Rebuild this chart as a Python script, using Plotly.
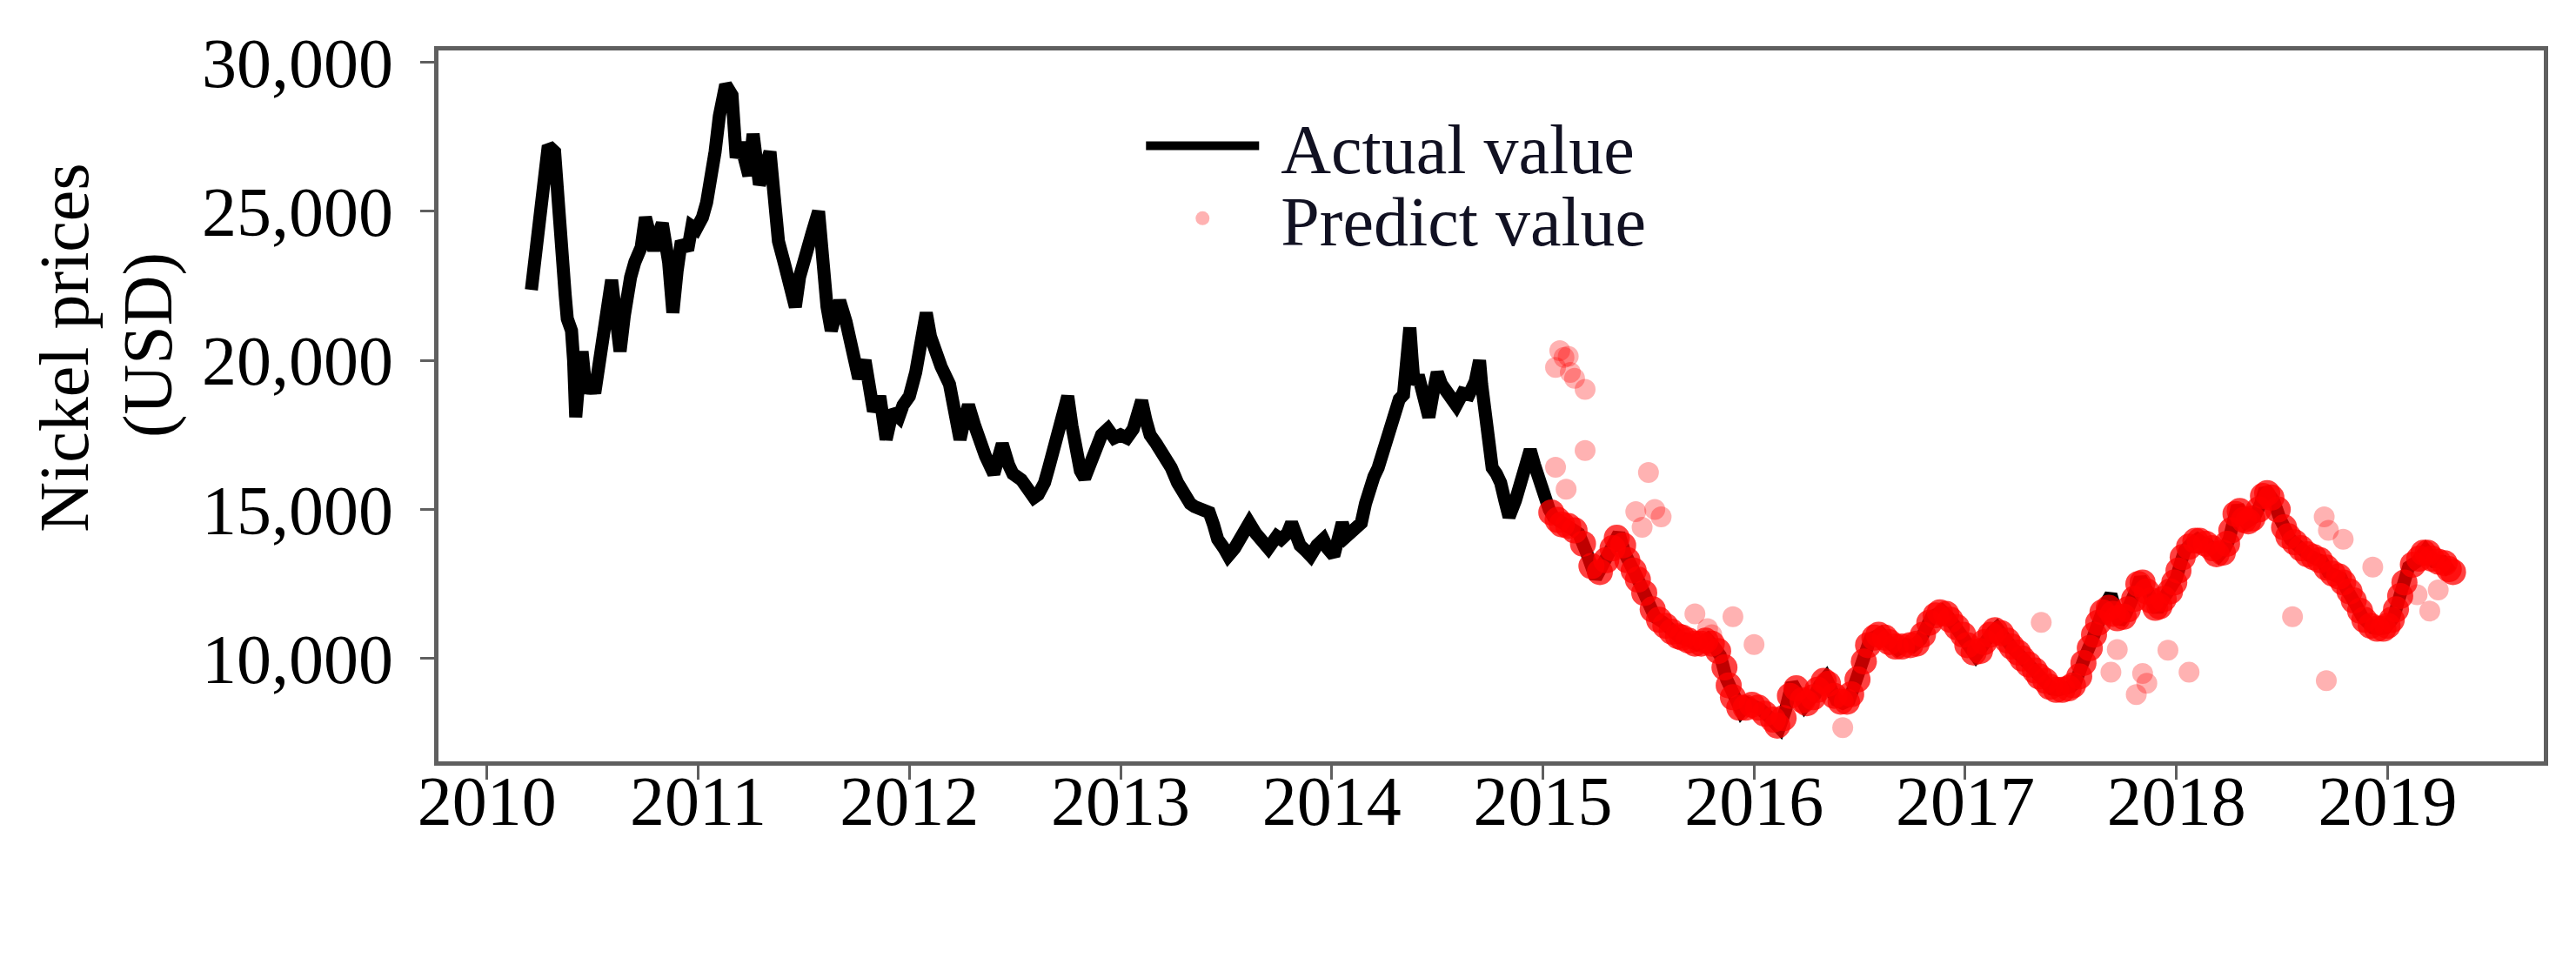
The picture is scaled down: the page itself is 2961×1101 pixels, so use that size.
"""Nickel prices: actual vs predicted values."""

import plotly.graph_objects as go


# ---- data ----
ACTUAL_YEARS = [
    2010.21, 2010.25, 2010.27, 2010.29, 2010.32, 2010.33, 2010.35, 2010.37, 2010.38, 2010.40,
    2010.41, 2010.42, 2010.44, 2010.45, 2010.47, 2010.49, 2010.51, 2010.53, 2010.55, 2010.57,
    2010.59, 2010.61, 2010.63, 2010.65, 2010.66, 2010.68, 2010.70, 2010.73, 2010.75, 2010.77,
    2010.79, 2010.81, 2010.83, 2010.86, 2010.88, 2010.90, 2010.92, 2010.95, 2010.97, 2010.99,
    2011.02, 2011.04, 2011.06, 2011.08, 2011.10, 2011.13, 2011.16, 2011.18, 2011.20, 2011.22,
    2011.24, 2011.26, 2011.29, 2011.31, 2011.34, 2011.36, 2011.38, 2011.41, 2011.43, 2011.46,
    2011.48, 2011.51, 2011.54, 2011.57, 2011.59, 2011.61, 2011.63, 2011.65, 2011.67, 2011.70,
    2011.72, 2011.74, 2011.76, 2011.79, 2011.81, 2011.83, 2011.86, 2011.89, 2011.92, 2011.95,
    2011.97, 2012.00, 2012.03, 2012.05, 2012.08, 2012.10, 2012.12, 2012.15, 2012.19, 2012.22,
    2012.24, 2012.26, 2012.28, 2012.31, 2012.33, 2012.36, 2012.40, 2012.42, 2012.44, 2012.47,
    2012.49, 2012.53, 2012.56, 2012.59, 2012.61, 2012.64, 2012.66, 2012.69, 2012.71, 2012.73,
    2012.75, 2012.77, 2012.79, 2012.81, 2012.83, 2012.86, 2012.89, 2012.91, 2012.94, 2012.97,
    2013.00, 2013.03, 2013.06, 2013.08, 2013.10, 2013.12, 2013.14, 2013.17, 2013.19, 2013.22,
    2013.24, 2013.27, 2013.30, 2013.33, 2013.35, 2013.38, 2013.42, 2013.44, 2013.46, 2013.49,
    2013.51, 2013.54, 2013.56, 2013.58, 2013.61, 2013.64, 2013.67, 2013.70, 2013.72, 2013.74,
    2013.76, 2013.79, 2013.81, 2013.83, 2013.85, 2013.88, 2013.90, 2013.93, 2013.96, 2013.98,
    2014.01, 2014.03, 2014.05, 2014.07, 2014.09, 2014.12, 2014.14, 2014.16, 2014.18, 2014.20,
    2014.22, 2014.24, 2014.26, 2014.28, 2014.30, 2014.32, 2014.34, 2014.355, 2014.37, 2014.38,
    2014.39, 2014.41, 2014.43, 2014.45, 2014.46, 2014.48, 2014.50, 2014.52, 2014.54, 2014.57,
    2014.59, 2014.62, 2014.65, 2014.68, 2014.70, 2014.71, 2014.72, 2014.74, 2014.76, 2014.78,
    2014.80, 2014.82, 2014.84, 2014.87, 2014.90, 2014.92, 2014.94, 2014.96, 2014.98, 2015.00,
    2015.03, 2015.05, 2015.08, 2015.10, 2015.13, 2015.17, 2015.21, 2015.25, 2015.28, 2015.31,
    2015.34, 2015.36, 2015.39, 2015.41, 2015.44, 2015.46, 2015.50, 2015.53, 2015.57, 2015.60,
    2015.62, 2015.65, 2015.68, 2015.70, 2015.73, 2015.76, 2015.78, 2015.81, 2015.84, 2015.87,
    2015.89, 2015.92, 2015.94, 2015.97, 2016.00, 2016.03, 2016.07, 2016.10, 2016.12, 2016.15,
    2016.18, 2016.21, 2016.24, 2016.26, 2016.29, 2016.31, 2016.34, 2016.37, 2016.39, 2016.42,
    2016.45, 2016.47, 2016.50, 2016.53, 2016.55, 2016.58, 2016.60, 2016.63, 2016.65, 2016.68,
    2016.72, 2016.75, 2016.79, 2016.81, 2016.84, 2016.87, 2016.89, 2016.92, 2016.94, 2016.97,
    2017.00, 2017.02, 2017.05, 2017.08, 2017.10, 2017.13, 2017.15, 2017.18, 2017.21, 2017.23,
    2017.26, 2017.28, 2017.31, 2017.34, 2017.36, 2017.39, 2017.41, 2017.44, 2017.47, 2017.50,
    2017.52, 2017.55, 2017.57, 2017.60, 2017.62, 2017.64, 2017.66, 2017.69, 2017.71, 2017.73,
    2017.76, 2017.78, 2017.81, 2017.83, 2017.85, 2017.87, 2017.89, 2017.91, 2017.93, 2017.95,
    2017.98, 2018.00, 2018.02, 2018.04, 2018.07, 2018.10, 2018.12, 2018.15, 2018.18, 2018.20,
    2018.23, 2018.25, 2018.27, 2018.29, 2018.31, 2018.33, 2018.35, 2018.37, 2018.40, 2018.42,
    2018.44, 2018.46, 2018.49, 2018.52, 2018.54, 2018.57, 2018.60, 2018.63, 2018.66, 2018.69,
    2018.72, 2018.75, 2018.78, 2018.80, 2018.83, 2018.85, 2018.88, 2018.90, 2018.93, 2018.96,
    2018.99, 2019.01, 2019.03, 2019.05, 2019.07, 2019.09, 2019.10, 2019.14, 2019.16, 2019.18,
    2019.20, 2019.22, 2019.26, 2019.28, 2019.30,
]
ACTUAL_PRICES = [
    22370, 24980, 25300, 27200, 27000, 25700, 22800, 22200, 21400, 21000,
    20000, 18100, 19800, 20300, 18900, 19500, 18900, 19800, 20800, 22000,
    22700, 21500, 20300, 21500, 22200, 22800, 23300, 23800, 24800, 24000,
    23700, 24200, 24600, 23300, 21600, 23000, 24000, 23700, 24500, 24400,
    24800, 25300, 26000, 27000, 28200, 29250, 28900, 26800, 27300, 26500,
    26200, 27600, 25900, 26300, 27000, 25500, 24000, 23200, 22700, 21800,
    22800, 23700, 24300, 25000, 22700, 21800, 21000, 21500, 22000, 21300,
    20700, 20000, 19400, 20000, 19000, 18300, 18800, 17350, 18300, 18100,
    18500, 18800, 19600, 20300, 21600, 20800, 20300, 19800, 19200, 18300,
    17350, 18000, 18500, 17800, 17350, 16800, 16200, 16800, 17200, 16500,
    16200, 16000, 15700, 15400, 15500, 15900, 16400, 17100, 17700, 18400,
    18800, 17800, 17000, 16300, 16050, 16700, 17200, 17500, 17700, 17400,
    17500, 17400, 17700, 18200, 18650, 18000, 17500, 17200, 17000, 16700,
    16400, 15900, 15500, 15200, 15100, 15000, 14900, 14500, 14000, 13700,
    13450, 13700, 14000, 14300, 14550, 14200, 14000, 13700, 13900, 14100,
    14000, 14200, 14550, 14100, 13800, 13600, 13450, 13800, 14000, 13700,
    13450, 14000, 14550, 14100, 14200, 14400, 14550, 15200, 15900, 16100,
    16400, 16900, 17350, 18000, 18500, 18700, 18850, 20000, 21100, 20100,
    19200, 19500, 18850, 18400, 18100, 18900, 19600, 19200, 19000, 18700,
    18500, 18900, 18850, 19300, 20000, 19200, 18500, 17400, 16400, 16200,
    15900, 15300, 14750, 15300, 15900, 16600, 17000, 16500, 16050, 15500,
    15000, 14750, 14600, 14550, 14400, 14190, 13500, 12700, 13100, 13450,
    13900, 14190, 13500, 13100, 12800, 12510, 11900, 11400, 11210, 11000,
    10840, 10700, 10650, 10550, 10470, 10550, 10650, 10400, 10100, 9300,
    8980, 8420, 8240, 8500, 8420, 8300, 8050, 7850, 7680, 8300,
    9170, 8800, 8420, 8600, 8800, 9100, 9350, 8900, 8600, 8500,
    8600, 9000, 9540, 10200, 10650, 10750, 10840, 10600, 10470, 10300,
    10470, 10400, 10650, 11000, 11400, 11500, 11600, 11400, 11200, 10900,
    10650, 10300, 10100, 10400, 10650, 10900, 11030, 10700, 10470, 10300,
    10100, 9900, 9730, 9500, 9350, 9150, 8980, 8950, 8980, 9050,
    9170, 9600, 10100, 10600, 11030, 11400, 11770, 12140, 11600, 11200,
    11500, 11770, 12300, 12700, 12400, 12140, 11800, 11600, 11900, 12140,
    12400, 12700, 13200, 13630, 13850, 14000, 13900, 13820, 13600, 13450,
    13700, 14000, 14600, 15120, 14800, 14560, 14650, 14750, 15200, 15680,
    15500, 15300, 14700, 14190, 14000, 13820, 13600, 13450, 13350, 13260,
    12890, 12800, 12700, 12400, 12140, 11800, 11400, 11200, 11030, 11000,
    11030, 11200, 11400, 11900, 12330, 12800, 13070, 13260, 13450, 13630,
    13450, 13260, 13260, 13100, 12890,
]

# predictions lying on the actual curve
PREDICT_YEARS = [
    2015.04, 2015.07, 2015.09, 2015.12, 2015.15, 2015.19, 2015.23, 2015.27, 2015.30, 2015.33,
    2015.35, 2015.38, 2015.40, 2015.43, 2015.45, 2015.48, 2015.52, 2015.55, 2015.58, 2015.61,
    2015.64, 2015.66, 2015.69, 2015.72, 2015.75, 2015.77, 2015.80, 2015.83, 2015.86, 2015.88,
    2015.90, 2015.93, 2015.96, 2015.99, 2016.02, 2016.05, 2016.09, 2016.11, 2016.14, 2016.17,
    2016.20, 2016.23, 2016.25, 2016.28, 2016.30, 2016.33, 2016.35, 2016.38, 2016.41, 2016.44,
    2016.46, 2016.49, 2016.52, 2016.54, 2016.57, 2016.59, 2016.62, 2016.64, 2016.67, 2016.70,
    2016.74, 2016.77, 2016.80, 2016.83, 2016.86, 2016.88, 2016.91, 2016.93, 2016.96, 2016.99,
    2017.01, 2017.04, 2017.07, 2017.09, 2017.12, 2017.14, 2017.17, 2017.20, 2017.22, 2017.25,
    2017.27, 2017.30, 2017.33, 2017.35, 2017.38, 2017.40, 2017.43, 2017.46, 2017.49, 2017.51,
    2017.54, 2017.56, 2017.59, 2017.61, 2017.63, 2017.65, 2017.68, 2017.70, 2017.72, 2017.75,
    2017.77, 2017.80, 2017.82, 2017.84, 2017.86, 2017.88, 2017.90, 2017.92, 2017.94, 2017.97,
    2017.99, 2018.01, 2018.03, 2018.06, 2018.09, 2018.11, 2018.14, 2018.17, 2018.19, 2018.22,
    2018.24, 2018.26, 2018.28, 2018.30, 2018.32, 2018.34, 2018.36, 2018.39, 2018.41, 2018.43,
    2018.45, 2018.48, 2018.51, 2018.53, 2018.56, 2018.59, 2018.62, 2018.65, 2018.68, 2018.71,
    2018.74, 2018.77, 2018.79, 2018.82, 2018.84, 2018.87, 2018.89, 2018.92, 2018.95, 2018.98,
    2019.00, 2019.02, 2019.04, 2019.06, 2019.08, 2019.12, 2019.15, 2019.17, 2019.19, 2019.21,
    2019.24, 2019.27, 2019.29, 2019.31,
]
PREDICT_PRICES = [
    14900, 14650, 14500, 14450, 14300, 13850, 13100, 12900, 13300, 13700,
    14050, 13800, 13300, 12950, 12650, 12200, 11650, 11300, 11100, 10900,
    10750, 10700, 10600, 10500, 10500, 10600, 10500, 10250, 9700, 9100,
    8700, 8350, 8350, 8450, 8350, 8150, 7950, 7750, 8000, 8750,
    9000, 8600, 8500, 8700, 8950, 9250, 9150, 8750, 8550, 8550,
    8800, 9300, 9900, 10450, 10700, 10800, 10700, 10550, 10400, 10400,
    10450, 10500, 10800, 11200, 11450, 11550, 11500, 11300, 11050, 10800,
    10450, 10200, 10250, 10550, 10800, 10950, 10850, 10600, 10400, 10200,
    10000, 9800, 9600, 9400, 9250, 9050, 8950, 8950, 9000, 9100,
    9400, 9850, 10350, 10800, 11200, 11550, 11700, 11500, 11350, 11400,
    11650, 12000, 12500, 12550, 12250, 11950, 11700, 11750, 12000, 12250,
    12550, 12950, 13400, 13750, 13950, 13950, 13850, 13700, 13500, 13550,
    13850, 14300, 14850, 14950, 14650, 14600, 14700, 15000, 15450, 15550,
    15400, 15000, 14400, 14100, 13900, 13700, 13500, 13400, 13300, 13050,
    12850, 12750, 12550, 12250, 11950, 11600, 11300, 11100, 11000, 11000,
    11100, 11300, 11650, 12100, 12550, 13150, 13350, 13550, 13550, 13350,
    13250, 13200, 13000, 12900,
]

# predictions scattered away from the curve
OUTLIER_YEARS = [
    2015.06, 2015.08, 2015.10, 2015.12, 2015.13, 2015.15, 2015.20, 2015.20, 2015.06, 2015.11,
    2015.44, 2015.50, 2015.53, 2015.56, 2015.47, 2015.72, 2015.78, 2015.80, 2015.90, 2016.00,
    2016.42, 2017.36, 2017.69, 2017.72, 2017.81, 2017.84, 2017.86, 2017.96, 2018.06, 2018.55,
    2018.70, 2018.72, 2018.79, 2018.71, 2018.93, 2019.14, 2019.20, 2019.24,
]
OUTLIER_PRICES = [
    19770, 20330, 20100, 20140, 19600, 19400, 19030, 16980, 16420, 15680,
    14930, 16240, 15000, 14750, 14400, 11500, 11000, 10800, 11400, 10470,
    7680, 11210, 9540, 10300, 8790, 9500, 9170, 10280, 9540, 11400,
    14750, 14300, 14000, 9260, 13070, 12140, 11590, 12300,
]

YEAR_TICKS = [2010, 2011, 2012, 2013, 2014, 2015, 2016, 2017, 2018, 2019]
PRICE_TICKS = [10000, 15000, 20000, 25000, 30000]

FONT = 'Liberation Serif'
FRAME = '#5f5f5f'
SIZE = 80

fig = go.Figure()

fig.add_trace(go.Scatter(x=ACTUAL_YEARS, y=ACTUAL_PRICES, name='\u00a0Actual value',
                         mode='lines', legend='legend',
                         line={'color': 'black', 'width': 15}))
fig.add_trace(go.Scatter(x=OUTLIER_YEARS, y=OUTLIER_PRICES, name='\u00a0Predict value',
                         mode='markers', legend='legend2', legendgroup='pred',
                         marker={'color': 'red', 'size': 24, 'opacity': 0.3}))
fig.add_trace(go.Scatter(x=PREDICT_YEARS, y=PREDICT_PRICES, name='Predict value',
                         mode='markers', legend='legend2', legendgroup='pred',
                         showlegend=False,
                         marker={'color': 'red', 'size': 30, 'opacity': 0.75}))

legend_style = {'xanchor': 'left', 'yanchor': 'middle', 'bgcolor': 'rgba(0,0,0,0)',
                'itemwidth': 130, 'font': {'family': FONT, 'size': SIZE, 'color': '#111122'}}

fig.update_layout(
    width=2961, height=1101,
    margin={'l': 496, 'r': 45, 't': 50, 'b': 234},
    paper_bgcolor='white', plot_bgcolor='white',
    font={'family': FONT, 'size': SIZE, 'color': 'black'},
    showlegend=True,
    legend={**legend_style, 'x': 0.334, 'y': 0.866},
    legend2={**legend_style, 'x': 0.334, 'y': 0.764},
)

fig.update_xaxes(range=[2009.77, 2019.74], tickvals=YEAR_TICKS,
                 ticktext=[str(y) for y in YEAR_TICKS],
                 showgrid=False, zeroline=False,
                 showline=True, linecolor=FRAME, linewidth=5, mirror=True,
                 ticks='outside', ticklen=16, tickwidth=3, tickcolor=FRAME,
                 ticklabelstandoff=-44)
fig.update_yaxes(range=[6550, 30400], tickvals=PRICE_TICKS,
                 ticktext=[f'{v:,}' for v in PRICE_TICKS],
                 showgrid=False, zeroline=False,
                 showline=True, linecolor=FRAME, linewidth=5, mirror=True,
                 ticks='outside', ticklen=16, tickwidth=3, tickcolor=FRAME,
                 ticklabelstandoff=15)

# y axis title, two rotated lines
fig.add_annotation(text='Nickel prices', textangle=-90,
                   xref='paper', yref='paper', x=-0.178, y=0.582,
                   xanchor='center', yanchor='middle', showarrow=False,
                   font={'family': FONT, 'size': SIZE, 'color': 'black'})
fig.add_annotation(text='(USD)', textangle=-90,
                   xref='paper', yref='paper', x=-0.138, y=0.585,
                   xanchor='center', yanchor='middle', showarrow=False,
                   font={'family': FONT, 'size': SIZE, 'color': 'black'})

fig.write_html('out.html')
